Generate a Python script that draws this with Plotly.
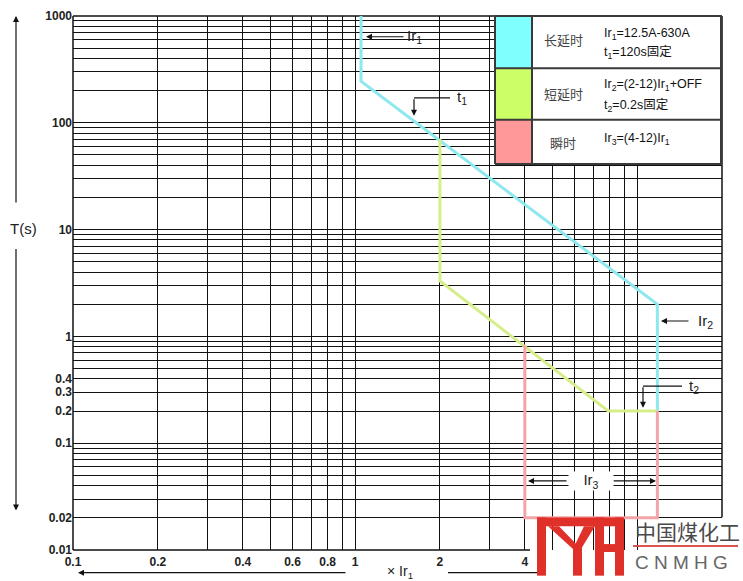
import math
import plotly.graph_objects as go

# ---------------- data ----------------
long_x = [1.05, 1.05, 11.8, 11.8]
long_y = [1000, 245, 2.0, 0.2]
short_x = [2, 2, 7.9, 11.8]
short_y = [70, 3.3, 0.2, 0.2]
inst_x = [4, 4, 11.8, 11.8]
inst_y = [0.82, 0.02, 0.02, 0.2]

x_grid = [0.1, 0.2, 0.3, 0.4, 0.5, 0.6, 0.7, 0.8, 0.9,
          1, 2, 3, 4, 5, 6, 7, 8, 9, 10]
x_text = ["0.1", "0.2", "", "0.4", "", "0.6", "", "0.8", "",
          "1", "2", "", "4", "", "", "", "", "", ""]
y_grid = [0.01, 0.02, 0.03, 0.04, 0.05, 0.06, 0.07, 0.08, 0.09,
          0.1, 0.2, 0.3, 0.4, 0.5, 0.6, 0.7, 0.8, 0.9,
          1, 2, 3, 4, 5, 6, 7, 8, 9,
          10, 20, 30, 40, 50, 60, 70, 80, 90,
          100, 200, 300, 400, 500, 600, 700, 800, 900, 1000]
y_text = ["0.01", "0.02", "", "", "", "", "", "", "",
          "0.1", "0.2", "0.3", "0.4", "", "", "", "", "",
          "1", "", "", "", "", "", "", "", "",
          "10", "", "", "", "", "", "", "", "",
          "100", "", "", "", "", "", "", "", "", "1000"]

CYAN_LINE = "#8EE8EE"
GREEN_LINE = "#D6EE8A"
PINK_LINE = "#F2A4A8"
CYAN = "#80FFFF"
GREEN = "#CCFF66"
PINK = "#FF9999"
RED = "#E0302A"

# plot area in pixels
L, R, T, B = 73, 722, 9, 550
W, H = R - L, B - T


def X(p):
    return (p - L) / W


def Y(p):
    return (B - p) / H


fig = go.Figure()
fig.add_trace(go.Scatter(x=long_x, y=long_y, mode="lines",
                         line=dict(color=CYAN_LINE, width=3), hoverinfo="skip"))
fig.add_trace(go.Scatter(x=short_x, y=short_y, mode="lines",
                         line=dict(color=GREEN_LINE, width=3), hoverinfo="skip"))
fig.add_trace(go.Scatter(x=inst_x, y=inst_y, mode="lines",
                         line=dict(color=PINK_LINE, width=3), hoverinfo="skip"))

shapes = []


def line(x0, y0, x1, y1, color="#111", width=1.3, layer="above"):
    shapes.append(dict(type="line", xref="paper", yref="paper",
                       x0=X(x0), y0=Y(y0), x1=X(x1), y1=Y(y1),
                       line=dict(color=color, width=width), layer=layer))


def rect(x0, y0, x1, y1, fill, lcolor=None, lwidth=0, layer="above"):
    shapes.append(dict(type="rect", xref="paper", yref="paper",
                       x0=X(x0), y0=Y(y0), x1=X(x1), y1=Y(y1),
                       fillcolor=fill,
                       line=dict(color=lcolor or fill, width=lwidth),
                       layer=layer))


def poly(pts, fill, layer="above"):
    path = "M " + " L ".join(f"{X(a):.5f},{Y(b):.5f}" for a, b in pts) + " Z"
    shapes.append(dict(type="path", xref="paper", yref="paper", path=path,
                       fillcolor=fill, line=dict(color=fill, width=0),
                       layer=layer))


# frame
line(L, T, L, B, width=1.5, layer="between")
line(L, B, 540, B, width=1.5, layer="between")
line(R, T, R, 517, width=1.5, layer="between")
line(L, T, R, T, width=1.5, layer="between")
# white gap near t1 label
rect(435, 86, 443, 103, "white", layer="between")
# logo background
rect(530, 517, 743, 581, "white", layer="between")

# legend table
rect(495, 9, 721, 159, "white")
rect(495, 9, 532, 62, CYAN)
rect(495, 62, 532, 114, GREEN)
rect(495, 114, 532, 159, PINK)
BC = "#3a3a3a"
line(495, 9, 721, 9, BC, 2)
line(495, 159, 721, 159, BC, 2)
line(495, 9, 495, 159, BC, 2)
line(721, 9, 721, 159, BC, 2)
line(532, 9, 532, 159, BC, 2)
line(495, 62, 721, 62, BC, 2)
line(495, 114, 721, 114, BC, 2)

# annotation guide lines
line(414, 92, 450, 92, width=1.2)
line(643, 384, 682, 384, width=1.2)
line(448, 573, 540, 573, width=1.2)

# logo shapes
rect(537, 517, 623, 526, RED)
rect(537, 517, 546, 576, RED)
poly([(548, 526), (559, 526), (581, 549), (573, 549)], RED)
poly([(595, 526), (584, 526), (573, 549), (581, 549)], RED)
rect(573, 546, 582, 576, RED)
rect(595, 517, 604, 576, RED)
rect(615, 517, 624, 576, RED)
rect(604, 544, 615, 552, RED)
line(633, 546, 738, 546, "#D9534F", 2)

annotations = []


def text(x, y, s, size=14, color="#222", xanchor="left", family="Liberation Sans",
         **kw):
    annotations.append(dict(x=X(x), y=Y(y), xref="paper", yref="paper",
                            text=s, showarrow=False, xanchor=xanchor,
                            yanchor="middle",
                            font=dict(size=size, color=color, family=family),
                            **kw))


def arrow(hx, hy, tx, ty):
    annotations.append(dict(x=X(hx), y=Y(hy), xref="paper", yref="paper",
                            ax=tx - hx, ay=ty - hy, text="", showarrow=True,
                            arrowhead=2, arrowsize=1, arrowwidth=1.2,
                            arrowcolor="#111"))


CJK = "Noto Sans CJK SC"
FT = "Liberation Sans"
FS = 12.5
# legend texts
text(563, 33, "长延时", 13, "#444", "center", CJK)
text(602, 27, "Ir<sub>1</sub>=12.5A-630A", FS, "#111", "left", FT)
text(602, 44, "t<sub>1</sub>=120s" + "<span style='font-family:Noto Sans CJK SC'>固定</span>",
     FS, "#111", "left", FT)
text(563, 88, "短延时", 13, "#444", "center", CJK)
text(602, 79, "Ir<sub>2</sub>=(2-12)Ir<sub>1</sub>+OFF", FS, "#111", "left", FT)
text(602, 98, "t<sub>2</sub>=0.2s" + "<span style='font-family:Noto Sans CJK SC'>固定</span>",
     FS, "#111", "left", FT)
text(563, 137, "瞬时", 13, "#444", "center", CJK)
text(602, 134, "Ir<sub>3</sub>=(4-12)Ir<sub>1</sub>", FS, "#111", "left", FT)

# curve labels
arrow(366, 30, 405, 30)
text(405, 30, "Ir<sub>1</sub>", 15)
arrow(414, 110, 414, 92)
text(455, 92, "t<sub>1</sub>", 15)
arrow(661, 318, 690, 318)
text(696, 318, "Ir<sub>2</sub>", 15)
arrow(643, 406, 643, 384)
text(687, 384, "t<sub>2</sub>", 15)
arrow(528, 480, 568, 480)
arrow(656, 480, 612, 480)
text(591, 480, "Ir<sub>3</sub>", 15, xanchor="center", bgcolor="white",
     width=42, height=16)

# axis titles
arrow(16, 9, 16, 197)
arrow(16, 510, 16, 247)
text(23, 224, "T(s)", 15, "#222", "center")
arrow(78, 573, 347, 573)
text(400, 572, "× Ir<sub>1</sub>", 14, "#222", "center")

# logo texts
text(633, 531, "中国煤化工", 21, "#4a4a4a", "left", CJK)
text(633, 563, "C N M H G", 19, "#666", "left", "Liberation Sans")

fig.update_layout(
    width=743, height=581,
    margin=dict(l=L, r=743 - R, t=T, b=581 - B),
    plot_bgcolor="white", paper_bgcolor="white",
    showlegend=False,
    shapes=shapes, annotations=annotations,
    xaxis=dict(type="log", range=[-1, math.log10(20)],
               tickvals=x_grid, ticktext=x_text, showgrid=True,
               gridcolor="#111", gridwidth=1.3, zeroline=False,
               showline=False, ticks="", ticklabelstandoff=3,
               tickfont=dict(family="Liberation Sans", size=12,
                             color="#222", weight="bold")),
    yaxis=dict(type="log", range=[-2, 3],
               tickvals=y_grid, ticktext=y_text, showgrid=True,
               gridcolor="#111", gridwidth=1.3, zeroline=False,
               showline=False, ticks="",
               tickfont=dict(family="Liberation Sans", size=12,
                             color="#222", weight="bold")),
)

fig.write_html("out.html", config={"displayModeBar": False},
               post_script="document.body.style.margin='0';document.body.style.overflow='hidden';")
